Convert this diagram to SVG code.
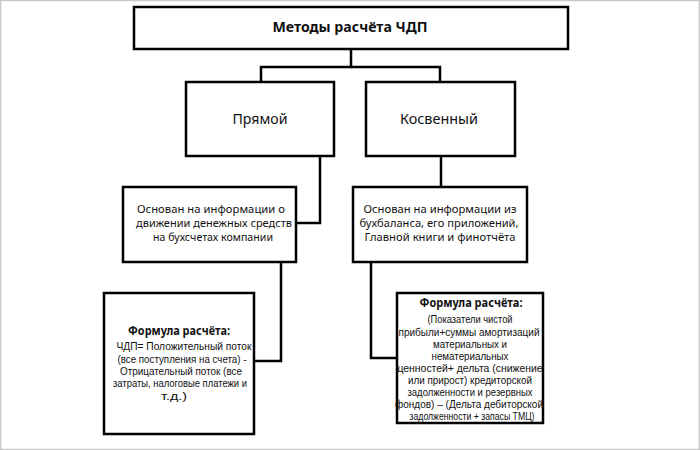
<svg xmlns="http://www.w3.org/2000/svg" width="700" height="450" viewBox="0 0 700 450">
<style>
.box{fill:#fff;stroke:#000;stroke-width:2.5}
.con{fill:none;stroke:#000;stroke-width:2.5}
text{font-family:"Noto Sans","Open Sans","Liberation Sans",sans-serif;fill:#111;text-anchor:middle}
.h{font-size:14px;font-weight:bold}
.m{font-size:14px}
.s{font-size:11px}
.f{font-size:11.5px;font-weight:bold}
.t{font-size:10px;font-family:"Liberation Sans","DejaVu Sans",sans-serif}
</style>
<rect x="0.5" y="0.5" width="699" height="449" fill="#fff" stroke="#c8c8c8" stroke-width="1.5"/>
<g id="connectors">
<polyline class="con" points="351,49 351,67 261,67 261,82"/>
<polyline class="con" points="351,67 440,67 440,82"/>
<polyline class="con" points="320,156 320,223 296,223"/>
<polyline class="con" points="441,156 441,187"/>
<polyline class="con" points="281,262 281,361 254,361"/>
<polyline class="con" points="371,262 371,358 397,358"/>
</g>
<g id="root">
<rect class="box" x="134" y="7" width="434" height="42"/>
<text class="h" x="350" y="32" textLength="155" lengthAdjust="spacingAndGlyphs">Методы расчёта ЧДП</text>
</g>
<g id="direct">
<rect class="box" x="186" y="82" width="148" height="74"/>
<text class="m" x="260" y="124" textLength="55" lengthAdjust="spacingAndGlyphs">Прямой</text>
</g>
<g id="indirect">
<rect class="box" x="366" y="82" width="149" height="74"/>
<text class="m" x="439" y="124" textLength="78" lengthAdjust="spacingAndGlyphs">Косвенный</text>
</g>
<g id="direct-basis">
<rect class="box" x="123" y="187" width="173" height="75"/>
<text class="s" x="211" y="213" textLength="148" lengthAdjust="spacingAndGlyphs">Основан на информации о</text>
<text class="s" x="214" y="227" textLength="156" lengthAdjust="spacingAndGlyphs">движении денежных средств</text>
<text class="s" x="213" y="241" textLength="120" lengthAdjust="spacingAndGlyphs">на бухсчетах компании</text>
</g>
<g id="indirect-basis">
<rect class="box" x="353" y="187" width="174" height="75"/>
<text class="s" x="440" y="213" textLength="153" lengthAdjust="spacingAndGlyphs">Основан на информации из</text>
<text class="s" x="439" y="227" textLength="159" lengthAdjust="spacingAndGlyphs">бухбаланса, его приложений,</text>
<text class="s" x="440" y="241" textLength="151" lengthAdjust="spacingAndGlyphs">Главной книги и финотчёта</text>
</g>
<g id="direct-formula">
<rect class="box" x="104" y="293" width="150" height="141"/>
<text class="f" x="179" y="335" textLength="102" lengthAdjust="spacingAndGlyphs">Формула расчёта:</text>
<text class="t" x="184" y="350" textLength="135" lengthAdjust="spacingAndGlyphs">ЧДП= Положительный поток</text>
<text class="t" x="182" y="363" textLength="129" lengthAdjust="spacingAndGlyphs">(все поступления на счета) -</text>
<text class="t" x="181" y="375" textLength="122" lengthAdjust="spacingAndGlyphs">Отрицательный поток (все</text>
<text class="t" x="180" y="387" textLength="134" lengthAdjust="spacingAndGlyphs">затраты, налоговые платежи и</text>
<text class="t" x="174" y="400" textLength="26" lengthAdjust="spacingAndGlyphs">т.д.)</text>
</g>
<g id="indirect-formula">
<rect class="box" x="397" y="293" width="146" height="130"/>
<text class="f" x="471" y="307" textLength="103" lengthAdjust="spacingAndGlyphs">Формула расчёта:</text>
<text class="t" x="470" y="323" textLength="85" lengthAdjust="spacingAndGlyphs">(Показатели чистой</text>
<text class="t" x="469" y="336" textLength="141" lengthAdjust="spacingAndGlyphs">прибыли+суммы амортизаций</text>
<text class="t" x="470" y="348" textLength="74" lengthAdjust="spacingAndGlyphs">материальных и</text>
<text class="t" x="470" y="360" textLength="77" lengthAdjust="spacingAndGlyphs">нематериальных</text>
<text class="t" x="470" y="372" textLength="145" lengthAdjust="spacingAndGlyphs">ценностей+ дельта (снижение</text>
<text class="t" x="470" y="384" textLength="124" lengthAdjust="spacingAndGlyphs">или прирост) кредиторской</text>
<text class="t" x="470" y="396" textLength="125" lengthAdjust="spacingAndGlyphs">задолженности и резервных</text>
<text class="t" x="469" y="408" textLength="148" lengthAdjust="spacingAndGlyphs">фондов) – (Дельта дебиторской</text>
<text class="t" x="472" y="420" textLength="125" lengthAdjust="spacingAndGlyphs">задолженности + запасы ТМЦ)</text>
</g>
</svg>
